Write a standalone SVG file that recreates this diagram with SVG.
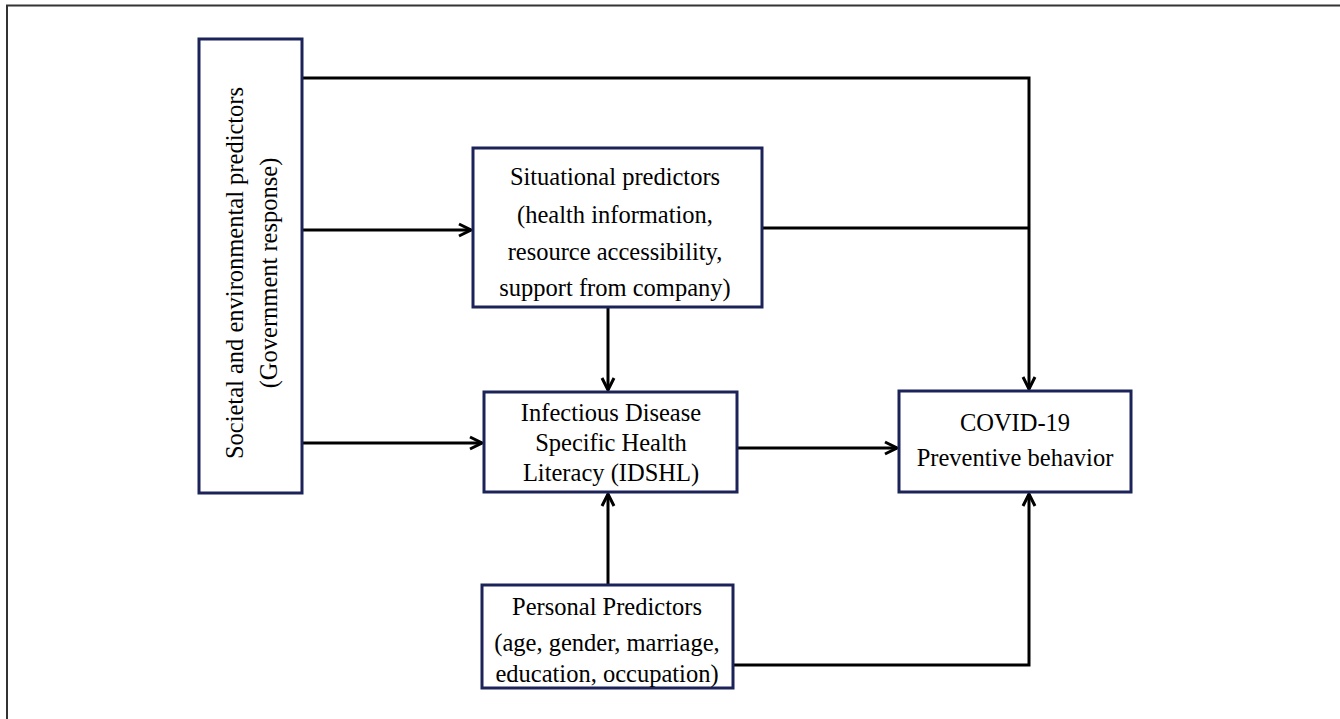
<svg xmlns="http://www.w3.org/2000/svg" width="1340" height="719" viewBox="0 0 1340 719">
<style>
.box{fill:#fff;stroke:#1c2358;stroke-width:3}
.t{font-family:"Liberation Serif","Times New Roman",serif;font-size:24.5px;fill:#000;text-anchor:middle}
.c{fill:none;stroke:#000;stroke-width:3}
</style>
<defs>
<marker id="ah" markerUnits="userSpaceOnUse" markerWidth="16" markerHeight="16" refX="13" refY="7" orient="auto" viewBox="0 0 16 14">
<path d="M1,1 L13,7 L1,13" fill="none" stroke="#000" stroke-width="3" stroke-linejoin="miter"/>
</marker>
</defs>
<rect width="1340" height="719" fill="#fff"/>
<path d="M7,719 V5.5 H1340" fill="none" stroke="#333" stroke-width="2"/>
<g id="connectors">
<path class="c" d="M302,78 H1029 V389" marker-end="url(#ah)"/>
<path class="c" d="M302,230 H471" marker-end="url(#ah)"/>
<path class="c" d="M762,228 H1029"/>
<path class="c" d="M608,307 V390" marker-end="url(#ah)"/>
<path class="c" d="M302,443 H482" marker-end="url(#ah)"/>
<path class="c" d="M737,448 H897" marker-end="url(#ah)"/>
<path class="c" d="M608,585 V494" marker-end="url(#ah)"/>
<path class="c" d="M733,665 H1029 V494" marker-end="url(#ah)"/>
</g>
<g id="societal">
<rect class="box" x="199" y="39" width="103" height="454"/>
<text class="t" transform="translate(243,273) rotate(-90)">Societal and environmental predictors</text>
<text class="t" transform="translate(277,273) rotate(-90)">(Government response)</text>
</g>
<g id="situational">
<rect class="box" x="473" y="148" width="289" height="159"/>
<text class="t" x="615" y="185">Situational predictors</text>
<text class="t" x="615" y="223">(health information,</text>
<text class="t" x="615" y="260">resource accessibility,</text>
<text class="t" x="615" y="296">support from company)</text>
</g>
<g id="idshl">
<rect class="box" x="484" y="392" width="253" height="100"/>
<text class="t" x="611" y="421">Infectious Disease</text>
<text class="t" x="611" y="451">Specific Health</text>
<text class="t" x="611" y="481">Literacy (IDSHL)</text>
</g>
<g id="covid">
<rect class="box" x="899" y="391" width="232" height="101"/>
<text class="t" x="1015" y="431">COVID-19</text>
<text class="t" x="1015" y="466">Preventive behavior</text>
</g>
<g id="personal">
<rect class="box" x="482" y="585" width="251" height="103"/>
<text class="t" x="607" y="615">Personal Predictors</text>
<text class="t" x="607" y="651">(age, gender, marriage,</text>
<text class="t" x="607" y="682">education, occupation)</text>
</g>
</svg>
